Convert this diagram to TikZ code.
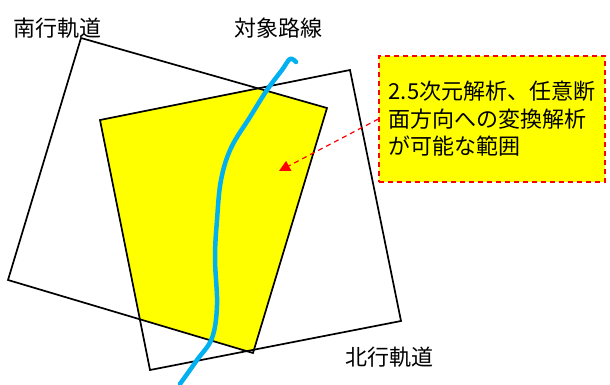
\documentclass[tikz,border=0pt]{standalone}
\usepackage{fontspec}
\setmainfont{Noto Sans CJK JP}
\usetikzlibrary{arrows.meta}
\definecolor{fillyel}{RGB}{255,255,0}
\definecolor{routeblue}{RGB}{0,176,240}
\definecolor{callred}{RGB}{255,0,0}
\tikzset{
  track/.style={draw=black, line width=1.7pt, line join=miter},
  lbl/.style={font=\fontsize{22}{26}\selectfont, inner sep=0pt},
  callout/.style={draw=callred, dashed, dash pattern=on 5pt off 4pt, line width=1.2pt, fill=fillyel,
    minimum width=226pt, minimum height=126pt, align=left,
    font=\fontsize{22}{27.5}\selectfont, inner sep=0pt},
  callarrow/.style={draw=callred, dashed, dash pattern=on 5pt off 4pt, line width=1.2pt,
    -{Triangle[length=11pt,width=11pt]}}
}
\begin{document}
\begin{tikzpicture}[x=1pt,y=-1pt]
\useasboundingbox (0,0) rectangle (610,385);
% yellow overlap
\begin{scope}
  \clip (100,120) -- (350,70) -- (401,321) -- (150,370) -- cycle;
  \fill[fillyel] (81,38) -- (327,108) -- (253,353) -- (8,280) -- cycle;
\end{scope}
% tracks
\draw[track] (81,38) -- (327,108) -- (253,353) -- (8,280) -- cycle;
\draw[track] (100,120) -- (350,70) -- (401,321) -- (150,370) -- cycle;
% route
\draw[routeblue, line width=4.5pt, line cap=round] plot[smooth, tension=0.6] coordinates {
 (296,62) (290,59) (282,70) (267,90) (250,117) (231,148) (221,180) (217,220)
 (215,258) (217,305) (212,338) (197,360) (180,384)};
% labels
\node[lbl] (south) at (57,28) {南行軌道};
\node[lbl] (route) at (278,28) {対象路線};
\node[lbl] (north) at (389,357) {北行軌道};
% callout
\node[callout] (note) at (492,119) {2.5次元解析、任意断\\面方向への変換解析\\が可能な範囲};
\coordinate (tgt) at (279,171);
\draw[callarrow] (note.west) -- (tgt);
\end{tikzpicture}
\end{document}
